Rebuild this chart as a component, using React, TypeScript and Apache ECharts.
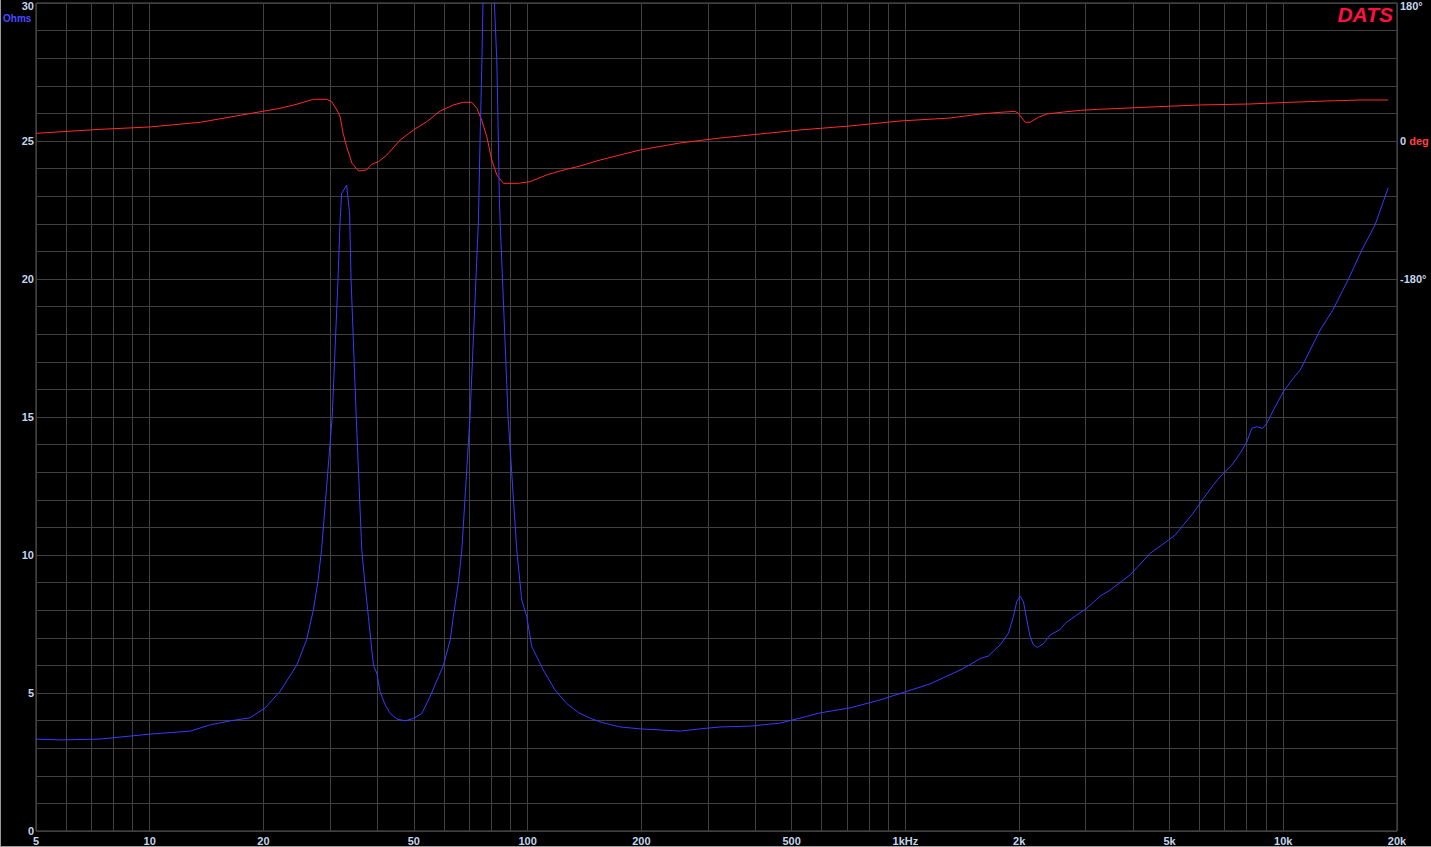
import React, { useEffect, useRef } from "react";
import * as echarts from "echarts";

// Impedance (Ohms) vs frequency (Hz)
const freqZ = [5, 5.79, 7.38, 10, 12.8, 14.4, 16.3, 18.4, 20.2, 22.1, 24.5, 26.0, 27.1, 27.9, 28.5, 30.4, 31.5, 31.9, 32.2, 33.2, 33.8, 34.1, 35.2, 36.4, 37.1, 37.9, 38.7, 39.1, 39.9, 40.7, 42.0, 43.3, 45.1, 47.4, 49.9, 52.5, 55.2, 58.1, 59.9, 62.4, 63.6, 65.6, 67.0, 70.4, 73.0, 74.1, 74.8, 75.3, 75.8, 76.2, 77.5, 78.8, 80.2, 81.7, 82.9, 83.7, 84.2, 84.6, 88.8, 93.6, 96.5, 99.5, 102.6, 110.1, 118.2, 126.9, 136.3, 146.3, 155.6, 175.7, 198.5, 224.3, 253.3, 286.1, 323.3, 388.1, 466, 526.3, 594.7, 713.9, 857, 998, 1162, 1395, 1483, 1577, 1658, 1780, 1873, 1931, 1971, 2012, 2053, 2096, 2138, 2182, 2236, 2319, 2415, 2567, 2647, 2842, 3020, 3276, 3482, 3933, 4442, 4967, 5174, 5442, 5728, 6146, 6535, 6876, 7310, 7688, 8010, 8256, 8509, 8828, 9045, 9419, 10012, 10537, 11085, 12520, 13530, 14870, 16140, 17500, 18950];
const ohms = [3.33, 3.3, 3.33, 3.51, 3.62, 3.84, 3.99, 4.1, 4.46, 5.05, 6.01, 6.92, 8.0, 9.09, 10.2, 15.0, 20.0, 22.1, 23.1, 23.4, 22.4, 20.0, 15.0, 10.2, 9.0, 7.77, 6.56, 6.0, 5.72, 5.05, 4.57, 4.26, 4.06, 3.99, 4.08, 4.26, 4.87, 5.59, 6.01, 6.92, 7.77, 9.0, 10.2, 15.0, 20.0, 22.1, 24.8, 26.5, 28.3, 30.0, 36, 40, 36, 30.0, 27.9, 25.0, 22.9, 22.1, 15.0, 10.2, 8.37, 7.77, 6.68, 5.83, 5.11, 4.62, 4.29, 4.09, 3.95, 3.77, 3.7, 3.66, 3.62, 3.7, 3.77, 3.8, 3.91, 4.09, 4.28, 4.46, 4.75, 5.04, 5.33, 5.83, 6.03, 6.25, 6.34, 6.74, 7.16, 7.77, 8.31, 8.51, 8.31, 7.64, 7.04, 6.74, 6.65, 6.79, 7.1, 7.3, 7.52, 7.83, 8.07, 8.51, 8.73, 9.28, 10.06, 10.54, 10.72, 11.09, 11.45, 12.05, 12.54, 12.9, 13.26, 13.68, 14.1, 14.59, 14.65, 14.59, 14.77, 15.25, 15.92, 16.34, 16.7, 18.15, 18.88, 19.99, 21.05, 21.96, 23.3];

// Phase (degrees) vs frequency (Hz)
const freqP = [5, 7.38, 10, 13.6, 22.1, 24.5, 27.1, 29.4, 30.3, 31.3, 31.9, 32.5, 33.2, 34.3, 35.7, 37.5, 38.7, 40.3, 42.4, 46.0, 49.9, 54.1, 58.7, 63.6, 67.6, 71.2, 73.4, 75.6, 78.0, 80.4, 82.9, 86.3, 94.5, 101.5, 112.4, 121.9, 137.7, 155.6, 198.5, 253, 323, 412, 526, 714, 968, 1313, 1577, 1780, 1951, 1991, 2075, 2138, 2249, 2367, 2620, 2901, 3242, 4442, 6025, 8172, 10427, 13040, 16140, 18960];
const phaseDeg = [10.0, 15.2, 18.3, 24.4, 42.6, 47.9, 54.4, 54.4, 51.3, 40.4, 31.7, 10, -7.4, -29.1, -39.1, -37.8, -30.4, -27, -18.3, 1.3, 14.4, 25.2, 39.1, 47, 50.5, 50.5, 42.6, 27.4, 5.6, -24.8, -44.3, -55.2, -55.2, -53, -44.3, -39.1, -32.6, -24.8, -11.7, -2.6, 3.9, 9.1, 14.4, 19.6, 26.1, 30.0, 35.2, 37.4, 38.7, 36.1, 24.4, 24.4, 30.9, 35.2, 37.8, 40.0, 41.3, 44.3, 47, 48.3, 50.5, 52.2, 53.5, 53.5];

// Axis ticks / labels
const xLabelValues = [5, 10, 20, 50, 100, 200, 500, 1000, 2000, 5000, 10000, 20000];
const xLabelTexts = ["5", "10", "20", "50", "100", "200", "500", "1kHz", "2k", "5k", "10k", "20k"];
const xGridValues = [5, 6, 7, 8, 9, 10, 20, 30, 40, 50, 60, 70, 80, 90, 100, 200, 300, 400, 500, 600, 700, 800, 900, 1000, 2000, 3000, 4000, 5000, 6000, 7000, 8000, 9000, 10000, 20000];
const phaseLabels: Record<string, string> = { "180": "{t|180°}", "0": "{a|0} {r|deg}", "-180": "-180°" };

const LABEL = "#c4d6ec";
const FONT = '"Liberation Sans", Arial, sans-serif';

export default function App() {
  const ref = useRef<HTMLDivElement>(null);
  useEffect(() => {
    if (!ref.current) return;
    const chart = echarts.init(ref.current, undefined, { renderer: "svg" });
    chart.setOption({
      animation: false,
      backgroundColor: "#000",
      grid: {
        left: 36, right: 34, top: 3, bottom: 16,
        show: true, borderColor: "#5a5a5a", borderWidth: 1, backgroundColor: "#000",
        containLabel: false, outerBoundsMode: "none",
      },
      xAxis: {
        type: "log", logBase: 10, min: 5, max: 20000,
        axisLine: { show: false },
        axisTick: { show: false, customValues: xGridValues },
        splitLine: { show: true, lineStyle: { color: "#404040", width: 1 } },
        axisLabel: {
          customValues: xLabelValues,
          margin: 4,
          color: LABEL, fontFamily: FONT, fontWeight: "bold", fontSize: 11,
          formatter: (v: number) => {
            const i = xLabelValues.findIndex((x) => Math.abs(x - v) / x < 1e-6);
            return i >= 0 ? xLabelTexts[i] : "";
          },
        },
      },
      yAxis: [
        {
          type: "value", min: 0, max: 30, interval: 1, position: "left",
          axisLine: { show: false }, axisTick: { show: false },
          splitLine: { show: true, lineStyle: { color: "#404040", width: 1 } },
          axisLabel: {
            margin: 2, color: LABEL, fontFamily: FONT, fontWeight: "bold", fontSize: 11,
            formatter: (v: number) => (v % 5 === 0 ? (v === 30 ? "{t|30}" : String(v)) : ""),
            rich: { t: { color: LABEL, fontFamily: FONT, fontWeight: "bold", fontSize: 11, padding: [5, 0, 0, 0] } },
          },
        },
        {
          type: "value", min: -900, max: 180, interval: 180, position: "right",
          axisLine: { show: false }, axisTick: { show: false }, splitLine: { show: false },
          axisLabel: {
            margin: 3, color: LABEL, fontFamily: FONT, fontWeight: "bold", fontSize: 11,
            formatter: (v: number) => phaseLabels[String(v)] || "",
            rich: {
              t: { color: LABEL, fontFamily: FONT, fontWeight: "bold", fontSize: 11, padding: [6, 0, 0, 0] },
              a: { color: LABEL, fontFamily: FONT, fontWeight: "bold", fontSize: 11 },
              r: { color: "#ff4040", fontFamily: FONT, fontWeight: "bold", fontSize: 11 },
            },
          },
        },
      ],
      series: [
        {
          name: "Phase", type: "line", yAxisIndex: 1, symbol: "none", clip: true,
          lineStyle: { color: "#ff2a2a", width: 1 },
          data: freqP.map((f, i) => [f, phaseDeg[i]]),
        },
        {
          name: "Impedance", type: "line", yAxisIndex: 0, symbol: "none", clip: true,
          lineStyle: { color: "#3a3aff", width: 1 },
          data: freqZ.map((f, i) => [f, ohms[i]]),
        },
      ],
      graphic: [
        { type: "text", left: 3, top: 13, style: { text: "Ohms", fill: "#4a4aff", font: `bold 10px ${FONT}` } },
        { type: "text", right: 38, top: 4, style: { text: "DATS", fill: "#ff1040", font: `italic bold 21px ${FONT}` } },
        { type: "line", shape: { x1: 0.5, y1: 0, x2: 0.5, y2: 847 }, style: { stroke: "#9a9a9a", lineWidth: 1 } },
        { type: "line", shape: { x1: 0, y1: 846.5, x2: 1431, y2: 846.5 }, style: { stroke: "#9a9a9a", lineWidth: 1 } },
      ],
    });
    return () => chart.dispose();
  }, []);
  return <div ref={ref} style={{ position: "absolute", left: 0, top: 0, width: 1431, height: 847 }} />;
}
